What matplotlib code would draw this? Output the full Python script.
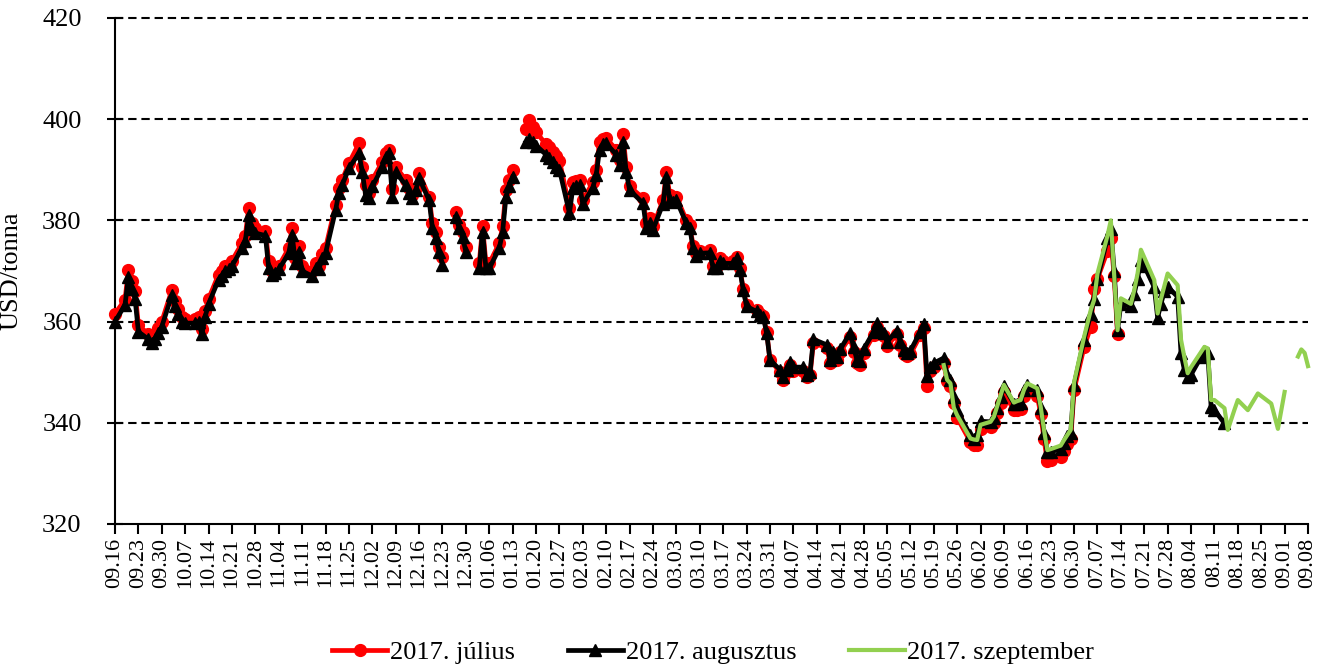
import matplotlib
matplotlib.use("Agg")
import matplotlib.pyplot as plt
import numpy as np
import pandas as pd

plt.rcParams['font.family'] = ['Liberation Serif', 'DejaVu Serif']
plt.rcParams['lines.scale_dashes'] = False

# ---------------- data ----------------
# trading days; exchange holidays on which the chart line continues are left out,
# holidays shown as a gap are kept with a missing value
OMITTED_DAYS = ["2016-11-24", "2017-02-20", "2017-04-14", "2017-05-29", "2017-07-04"]
dates = [d for d in pd.bdate_range("2016-09-16", "2017-09-08")
         if d.strftime("%Y-%m-%d") not in OMITTED_DAYS]

tick_labels = ["09.16", "09.23", "09.30", "10.07", "10.14", "10.21", "10.28", "11.04",
               "11.11", "11.18", "11.25", "12.02", "12.09", "12.16", "12.23", "12.30",
               "01.06", "01.13", "01.20", "01.27", "02.03", "02.10", "02.17", "02.24",
               "03.03", "03.10", "03.17", "03.24", "03.31", "04.07", "04.14", "04.21",
               "04.28", "05.05", "05.12", "05.19", "05.26", "06.02", "06.09", "06.16",
               "06.23", "06.30", "07.07", "07.14", "07.21", "07.28", "08.04", "08.11",
               "08.18", "08.25", "09.01", "09.08"]

july = [
    361.6,
    364.3, 370.2, 368.0, 366.0, 359.3,
    357.5, 356.8, 357.5, 358.8, 360.0,
    366.2, 364.0, 362.5, 361.0, 360.5,
    360.5, 361.0, 358.5, 362.0, 364.5,
    369.3, 370.0, 371.0, 371.2, 372.0,
    375.5, 377.0, 382.4, 379.5, 378.5,
    378.0, 372.0, 370.0, 370.3, 371.0,
    374.5, 378.5, 372.5, 375.0, 371.0,
    370.0, 371.5, 371.0, 373.4, 374.5,
    383.0, 386.5, 388.0, 391.3,
    395.2, 390.6, 387.0, 385.5, 388.0,
    391.6, 393.3, 393.9, 386.3, 390.6,
    388.0, 386.5, 385.0, 386.5, 389.3,
    384.7, 379.4, 377.8, 374.8, 372.8,
    None, 381.7, 379.1, 377.8, 374.8,
    None, 371.5, 378.8, 371.5, 371.5,
    375.5, 378.8, 386.0, 388.0, 390.0,
    None, 398.0, 399.8, 398.5, 397.5,
    395.0, 394.6, 393.6, 392.8, 391.8,
    382.5, 387.5, 387.8, 388.0, 384.0,
    387.5, 390.0, 395.5, 396.0, 396.2,
    394.0, 392.0, 397.0, 390.5, 386.7,
    384.4, 379.5, 380.4, 378.8,
    384.0, 389.6, 385.0, 384.4, 384.7,
    380.0, 379.0, 375.0, 373.5, 374.0,
    374.2, 371.0, 371.0, 372.5, 372.0,
    372.0, 372.8, 370.5, 366.5, 363.3,
    362.3, 361.5, 361.2, 358.0, 352.5,
    350.0, 348.5, 350.0, 351.5, 350.3,
    350.3, 349.0, 349.5, 355.8,
    354.8, 351.8, 353.3, 352.4, 354.0,
    357.0, 354.0, 351.8, 351.5, 353.8,
    357.3, 359.0, 357.8, 357.2, 355.2,
    357.5, 355.3, 353.6, 353.2, 353.5,
    357.3, 358.8, 347.3, 350.2, 351.0,
    351.8, 348.3, 347.3, 344.0, 341.0,
    336.2, 335.6, 335.6, 338.8,
    339.2, 340.0, 342.0, 344.0, 346.0,
    342.5, 342.5, 342.7, 345.3, 346.3,
    345.3, 341.8, 336.8, 332.4, 332.6,
    333.3, 334.5, 335.8, 336.8, 346.5,
    355.0, 359.0, 366.5, 368.5,
    374.0, 376.5, 369.0, 357.5, None,
] + [None] * 40

august = [
    360.0,
    363.3, 368.8, 366.5, 364.5, 358.0,
    356.5, 355.8, 356.5, 357.8, 359.0,
    365.2, 363.0, 361.5, 360.0, 359.7,
    359.7, 360.0, 357.5, 361.0, 363.5,
    368.3, 369.0, 370.0, 370.3, 371.0,
    374.5, 376.0, 381.0, 378.3, 377.5,
    377.0, 370.5, 369.2, 369.6, 370.3,
    373.5, 377.2, 371.5, 373.8, 370.0,
    369.0, 370.5, 370.3, 372.5, 373.5,
    382.0, 385.5, 387.0, 390.3,
    393.3, 389.5, 385.0, 384.4, 386.7,
    390.5, 392.5, 393.3, 384.7, 389.5,
    387.0, 385.5, 384.4, 386.0, 388.3,
    384.0, 378.4, 376.5, 373.8, 371.2,
    None, 380.7, 378.4, 376.8, 373.8,
    None, 370.5, 377.8, 370.5, 370.5,
    374.5, 377.8, 384.7, 386.7, 388.6,
    None, 395.5, 396.0, 395.5, 394.8,
    393.0, 392.3, 391.5, 390.6, 390.0,
    381.4, 386.5, 386.8, 387.0, 383.2,
    386.5, 389.0, 394.0, 395.0, 395.2,
    393.0, 391.0, 395.5, 389.5, 386.0,
    383.4, 378.5, 379.5, 378.2,
    383.3, 388.6, 384.0, 383.7, 384.0,
    379.4, 378.5, 374.5, 373.0, 373.5,
    373.6, 370.5, 370.5, 372.0, 371.5,
    371.5, 372.5, 370.2, 366.2, 363.0,
    362.0, 361.3, 361.0, 357.7, 352.4,
    350.5, 349.0, 350.5, 352.0, 351.0,
    351.0, 349.5, 350.0, 356.5,
    355.4, 352.5, 354.0, 353.1, 354.5,
    357.8, 355.0, 352.5, 352.2, 354.5,
    358.0, 359.7, 358.5, 357.8, 356.0,
    358.2, 356.0, 354.3, 353.8, 354.2,
    358.0, 359.5, 349.2, 351.0, 351.8,
    352.8, 349.5, 348.5, 345.0, 342.5,
    337.5, 336.8, 337.5, 340.3,
    340.2, 341.0, 343.0, 345.0, 347.2,
    343.8, 343.8, 344.0, 346.5, 347.5,
    346.5, 343.0, 338.0, 334.2, 334.3,
    334.8, 336.0, 337.3, 338.0, 347.5,
    356.4, 361.5, 364.5, 368.5,
    376.5, 378.3, 370.0, 358.3, 363.5,
    363.0, 365.5, 368.5, 372.2, 371.0,
    366.8, 360.8, 363.5, 366.0, 366.9,
    364.9, 353.7, 350.5, 349.0, 349.5,
    353.0, 354.2, 353.8, 343.2, 342.5,
    339.9, None, None, None, None,
] + [None] * 15

september = [None] * 173 + [
    351.4, 348.5, 347.8, 343.0, 341.5,
    336.9, 336.7, 336.6, 339.6,
    340.2, 341.2, 343.3, 345.4, 347.5,
    344.0, 344.3, 344.5, 346.5, 347.8,
    346.8, 343.2, 338.6, 334.6, 334.8,
    335.5, 336.6, 337.6, 338.6, 348.0,
    357.0, 362.3, 364.3, 369.5,
    377.0, 380.0, 369.0, 358.3, 364.6,
    363.5, 366.2, 369.5, 374.2, 372.7,
    368.2, 361.6, 364.5, 367.0, 369.5,
    367.2, 356.4, 353.0, 349.8, 351.0,
    354.0, 355.0, 354.7, 344.5, 344.5,
    342.9, 338.6, 340.6, 342.6, 344.5,
    342.5, 343.6, 344.7, 345.8, 345.3,
    343.8, 341.3, 338.8, 342.5, 346.1,
    None, 353.1, 354.5, 353.8, 351.2,
]

series_names = ["2017. július", "2017. augusztus", "2017. szeptember"]

assert len(july) == len(dates) == len(august) == len(september)


def arr(v):
    return np.array([np.nan if x is None else x for x in v], dtype=float)


# ---------------- figure ----------------
W, H = 1320, 667
fig = plt.figure(figsize=(W / 100, H / 100), dpi=100)
left, right, top, bottom = 115, 1308, 18, 524
ax = fig.add_axes([left / W, 1 - bottom / H, (right - left) / W, (bottom - top) / H])

ax.plot(dates, arr(july), color="#FF0000", lw=3.4, marker="o", ms=8.5,
        mfc="#FF0000", mec="#FF0000", label=series_names[0], zorder=3, clip_on=False)
ax.plot(dates, arr(august), color="#000000", lw=3.4, marker="^", ms=9,
        mfc="#000000", mec="#000000", label=series_names[1], zorder=4, clip_on=False)
ax.plot(dates, arr(september), color="#92D050", lw=3.0,
        label=series_names[2], zorder=5, clip_on=False)

# axes limits / grid
ax.set_ylim(320, 420)
ax.set_yticks(np.arange(320, 421, 20))
for yv in range(340, 421, 20):
    ax.axhline(yv, color="black", lw=1.5, ls=(0, (6, 3.5)), zorder=1, clip_on=False)

tick_dates = pd.date_range("2016-09-16", "2017-09-08", freq="7D")
ax.set_xlim(tick_dates[0], tick_dates[-1])
ax.set_xticks(tick_dates)
ax.set_xticklabels(tick_labels, rotation=90)

for s in ["top", "right"]:
    ax.spines[s].set_visible(False)
for s in ["left", "bottom"]:
    ax.spines[s].set_linewidth(1.5)
    ax.spines[s].set_color("black")

ax.tick_params(axis="y", direction="inout", length=12, width=1.5, labelsize=19, pad=18)
ax.tick_params(axis="x", direction="out", length=7, width=1.5, labelsize=16, pad=3)

ax.set_ylabel("USD/tonna", fontsize=19)
ax.yaxis.set_label_coords(-(left - 22) / (right - left), 0.5)

fig.legend(loc="center", bbox_to_anchor=(713 / W, 1 - 652 / H), ncol=3, frameon=False,
           fontsize=19, handlelength=2.1, handletextpad=0.1, columnspacing=2.0,
           borderaxespad=0)

fig.savefig("out.png", dpi=100)
